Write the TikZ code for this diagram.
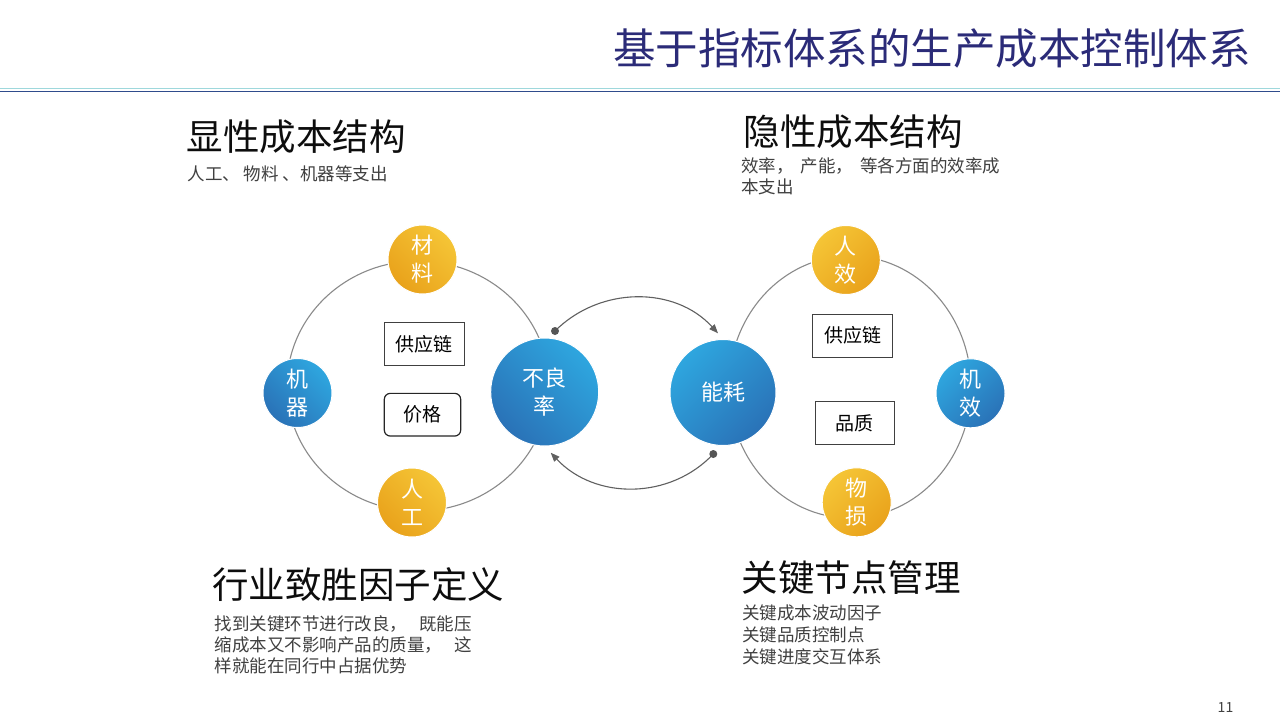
\documentclass[tikz,border=0pt]{standalone}
\usepackage{fontspec}
\setmainfont{Noto Sans CJK SC}
\usetikzlibrary{arrows.meta,shapes.geometric}
\definecolor{titleblue}{HTML}{2B2B78}
\definecolor{rulelight}{HTML}{9ED8DC}
\definecolor{ruledark}{HTML}{2F4C8C}
\definecolor{ringgray}{HTML}{8A8A8A}
\definecolor{conngray}{HTML}{606060}
\definecolor{dotgray}{HTML}{555555}
\definecolor{headcol}{HTML}{0D0D0D}
\definecolor{subcol}{HTML}{404040}
\definecolor{boxgray}{HTML}{404040}
\definecolor{bluelight}{HTML}{2EA6DF}
\definecolor{bluedark}{HTML}{2A72B7}
\definecolor{yellight}{HTML}{F5C536}
\definecolor{yeldark}{HTML}{E9A21B}
\definecolor{pagegray}{HTML}{404040}
\begin{document}
\begin{tikzpicture}[x=1pt,y=-1pt,
  ring/.style={draw=ringgray, line width=1.1pt, ellipse, inner sep=0pt},
  ball/.style={circle, inner sep=0pt, draw=white, line width=1pt, text=white,
    align=center, font=\fontsize{22}{28}\selectfont},
  smallball/.style={ball, minimum size=69},
  bigball/.style={ball, minimum size=107},
  bluel/.style={top color=bluelight, bottom color=bluedark, shading angle=-45},
  bluer/.style={top color=bluelight, bottom color=bluedark, shading angle=45},
  yell/.style={top color=yellight, bottom color=yeldark, shading angle=-45},
  yelr/.style={top color=yellight, bottom color=yeldark, shading angle=45},
  box/.style={draw=boxgray, line width=0.9pt, inner sep=0pt, text=black,
    font=\fontsize{19}{22}\selectfont},
  head/.style={inner sep=0pt, anchor=west, text=headcol,
    font=\fontsize{36.5}{44}\selectfont},
  sub/.style={inner sep=0pt, anchor=base west, align=left, text=subcol},
  conn/.style={draw=conngray, line width=1.1pt, -{Triangle[length=9pt,width=7pt]}},
  dot/.style={fill=dotgray}
]
\fill[white] (0,0) rectangle (1280,720);
\useasboundingbox (0,0) rectangle (1280,720);

% title and rules
\node[inner sep=0pt, anchor=east, text=titleblue,
  font=\fontsize{42.5}{50}\selectfont] (title) at (1251,48.5) {基于指标体系的生产成本控制体系};
\draw[rulelight, line width=1.6pt] (0,88.3) -- (1280,88.3);
\draw[ruledark, line width=1.2pt] (0,91.2) -- (1280,91.2);

% rings
\node[ring, minimum width=262, minimum height=250] (lring) at (418,386) {};
\node[ring, minimum width=242, minimum height=262] (rring) at (850,387) {};

% arcs between the rings
\coordinate (d1) at (555,331);
\coordinate (e1) at (718,333.3);
\coordinate (d2) at (713.3,454);
\coordinate (e2) at (550.7,452.7);
\draw[conn] (d1) .. controls (600,286) and (675,286) .. (e1);
\draw[conn] (d2) .. controls (670,500) and (595,500) .. (e2);
\fill[dot] (d1) circle[radius=4];
\fill[dot] (d2) circle[radius=4];

% circles
\node[smallball, yell] (cailiao) at (422.5,259.5) {材\\料};
\node[smallball, bluel] (jiqi) at (297.5,393) {机\\器};
\node[smallball, yell] (rengong) at (412,502.5) {人\\工};
\node[bigball, bluel, minimum size=108] (buliang) at (544.7,392) {不良\\率};
\node[bigball, bluer, minimum size=106] (nenghao) at (723,392.5) {能耗};
\node[smallball, yelr] (renxiao) at (845.8,260) {人\\效};
\node[smallball, bluer] (jixiao) at (970.5,393.3) {机\\效};
\node[smallball, yelr] (wusun) at (856.7,502.3) {物\\损};

% boxes
\node[box, minimum width=80, minimum height=43.4] (gyl1) at (424.3,344) {供应链};
\node[box, draw=black!85, line width=1.2pt, rounded corners=6pt,
  minimum width=76.4, minimum height=42.7] (jiage) at (422.5,414.7) {价格};
\node[box, minimum width=79.6, minimum height=43] (gyl2) at (852.5,335.5) {供应链};
\node[box, minimum width=79.7, minimum height=42.3] (pinzhi) at (854.9,422.9) {品质};

% text blocks (base anchor = baseline of the last line)
\node[head] (h1) at (186.5,137) {显性成本结构};
\node[sub, font=\fontsize{17.5}{21}\selectfont] (s1) at (187.3,180) {人工、 物料 、机器等支出};

\node[head] (h2) at (743.5,131.5) {隐性成本结构};
\node[sub, font=\fontsize{17.5}{21}\selectfont] (s2) at (741,193.9)
  {效率，\hspace{0.4em}产能，\hspace{0.4em}等各方面的效率成\\本支出};

\node[head] (h3) at (212,585) {行业致胜因子定义};
\node[sub, font=\fontsize{17.5}{21.2}\selectfont] (s3) at (214.3,672.7)
  {找到关键环节进行改良，\hspace{0.7em}既能压\\缩成本又不影响产品的质量，\hspace{0.7em}这\\样就能在同行中占据优势};

\node[head] (h4) at (741.5,578) {关键节点管理};
\node[sub, font=\fontsize{17.5}{22.3}\selectfont] (s4) at (742,663.8)
  {关键成本波动因子\\关键品质控制点\\关键进度交互体系};

\node[inner sep=0pt, text=pagegray, font=\fontsize{14}{16}\selectfont] (page) at (1225.5,708) {11};
\end{tikzpicture}
\end{document}
